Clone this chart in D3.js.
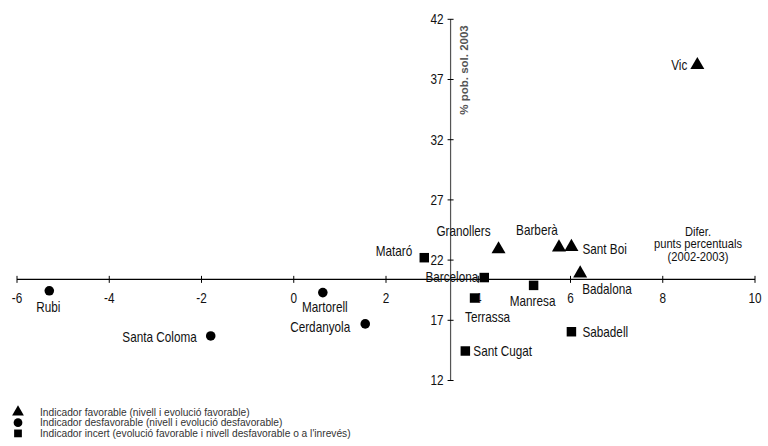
<!DOCTYPE html>
<html lang="ca">
<head>
<meta charset="UTF-8">
<title>Indicadors</title>
<script src="https://d3js.org/d3.v7.min.js"></script>
<style>
  body { margin: 0; background: #fff; }
  svg text { font-family: "Liberation Sans", Arial, sans-serif; }
</style>
</head>
<body>
<script>
// dades
var cities = ["Vic", "Granollers", "Barberà", "Sant Boi", "Badalona", "Mataró", "Barcelona", "Manresa",
              "Terrassa", "Sabadell", "Sant Cugat", "Rubi", "Santa Coloma", "Martorell", "Cerdanyola"];
var diffValues = [8.75, 4.44, 5.75, 6.02, 6.21, 2.83, 4.13, 5.2, 3.92, 6.02, 3.72, -5.3, -1.8, 0.63, 1.55];
var pobValues = [38.2, 22.9, 23.05, 23.1, 20.9, 22.2, 20.55, 19.9, 18.85, 16.05, 14.45, 19.45, 15.7, 19.3, 16.7];
var types = ["fav", "fav", "fav", "fav", "fav", "inc", "inc", "inc", "inc", "inc", "inc", "des", "des", "des", "des"];
var xTicks = [-6, -4, -2, 0, 2, 4, 6, 8, 10];
var yTicks = [12, 17, 22, 27, 32, 37, 42];
var legendTypes = ["fav", "des", "inc"];
var legendLabels = [
  "Indicador favorable (nivell i evolució favorable)",
  "Indicador desfavorable (nivell i evolució desfavorable)",
  "Indicador incert (evolució favorable i nivell desfavorable o a l'inrevés)"
];

// posicio de les etiquetes (dx, dy, anchor)
var labelPos = {
  "Vic": [-10, 0, "end"],
  "Granollers": [-35, -18, "middle"],
  "Barberà": [-22, -17, "middle"],
  "Sant Boi": [11, 2, "start"],
  "Badalona": [2, 16, "start"],
  "Mataró": [-12, -7, "end"],
  "Barcelona": [-6, 0, "end"],
  "Manresa": [-1, 16, "middle"],
  "Terrassa": [13, 19, "middle"],
  "Sabadell": [11, 0, "start"],
  "Sant Cugat": [8, 0, "start"],
  "Rubi": [-1, 16, "middle"],
  "Santa Coloma": [-14, 1, "end"],
  "Martorell": [2, 14, "middle"],
  "Cerdanyola": [-15, 3, "end"]
};

var width = 768, height = 446;
var narrow = 0.84; // no hi ha Arial Narrow: s'estreny el text
var svg = d3.select("body").append("svg").attr("width", width).attr("height", height);

var x = d3.scaleLinear().domain([-6, 10]).range([17, 755]);
var y = d3.scaleLinear().domain([12, 42]).range([380.5, 19.3]);
var xCross = 20.4; // l'eix x talla l'eix y
var yCross = 3.4;  // l'eix y talla l'eix x

function narrowText(parent, px, py, str, anchor, size) {
  parent.append("g")
    .attr("transform", "translate(" + px + "," + py + ") scale(" + narrow + ",1)")
    .append("text").attr("dy", "0.35em").attr("text-anchor", anchor)
    .attr("font-size", size).attr("fill", "#111").text(str);
}

// eix x
var gx = svg.append("g").attr("transform", "translate(0," + y(xCross) + ")");
gx.append("line").attr("x1", x(-6)).attr("x2", x(10)).attr("stroke", "#000").attr("stroke-width", 1.2);
gx.selectAll(".xt").data(xTicks).enter().append("line")
  .attr("x1", function(d) { return x(d); }).attr("x2", function(d) { return x(d); })
  .attr("y1", -3.5).attr("y2", 3.5).attr("stroke", "#000");
xTicks.forEach(function(d) { narrowText(gx, x(d), 19, d, "middle", 14); });

// eix y
var gy = svg.append("g").attr("transform", "translate(" + x(yCross) + ",0)");
gy.append("line").attr("y1", y(12)).attr("y2", y(42)).attr("stroke", "#555").attr("stroke-width", 1.2);
gy.selectAll(".yt").data(yTicks).enter().append("line")
  .attr("y1", function(d) { return y(d); }).attr("y2", function(d) { return y(d); })
  .attr("x1", -3).attr("x2", 3).attr("stroke", "#000");
yTicks.forEach(function(d) { narrowText(gy, -7, y(d), d, "end", 14); });

gy.append("text")
  .attr("transform", "translate(13,70) rotate(-90)")
  .attr("dy", "0.35em")
  .attr("text-anchor", "middle").attr("font-size", 11.5).attr("font-weight", "bold")
  .attr("fill", "#555").text("% pob. sol. 2003");

// titol eix x
var tl = svg.append("g").attr("transform", "translate(698,236) scale(0.93,1)")
  .append("text").attr("text-anchor", "middle").attr("font-size", 12).attr("fill", "#111");
["Difer.", "punts percentuals", "(2002-2003)"].forEach(function(s, i) {
  tl.append("tspan").attr("x", 0).attr("y", i * 12.3).text(s);
});

// etiquetes
cities.forEach(function(d, i) {
  narrowText(svg, x(diffValues[i]) + labelPos[d][0], y(pobValues[i]) + labelPos[d][1], d, labelPos[d][2], 14);
});

// simbols
function symbolPath(t, size) {
  var s = t === "fav" ? d3.symbolTriangle : (t === "des" ? d3.symbolCircle : d3.symbolSquare);
  return d3.symbol().type(s).size(size)();
}
var symSize = { fav: 85, des: 72, inc: 90 };
svg.selectAll(".pt").data(cities).enter().append("path")
  .attr("transform", function(d, i) { return "translate(" + x(diffValues[i]) + "," + y(pobValues[i]) + ")"; })
  .attr("d", function(d, i) { return symbolPath(types[i], symSize[types[i]]); })
  .attr("fill", "#000");

// llegenda
var lg = svg.append("g").attr("transform", "translate(18,412)");
lg.selectAll("path").data(legendTypes).enter().append("path")
  .attr("transform", function(d, i) { return "translate(0," + (i * 10.7) + ")"; })
  .attr("d", function(d) { return symbolPath(d, 60); }).attr("fill", "#000");
lg.selectAll("text").data(legendLabels).enter().append("text")
  .attr("x", 22).attr("y", function(d, i) { return i * 10.7; }).attr("dy", "0.35em")
  .attr("font-size", 10.2).attr("fill", "#333")
  .text(function(d) { return d; });
</script>
</body>
</html>
